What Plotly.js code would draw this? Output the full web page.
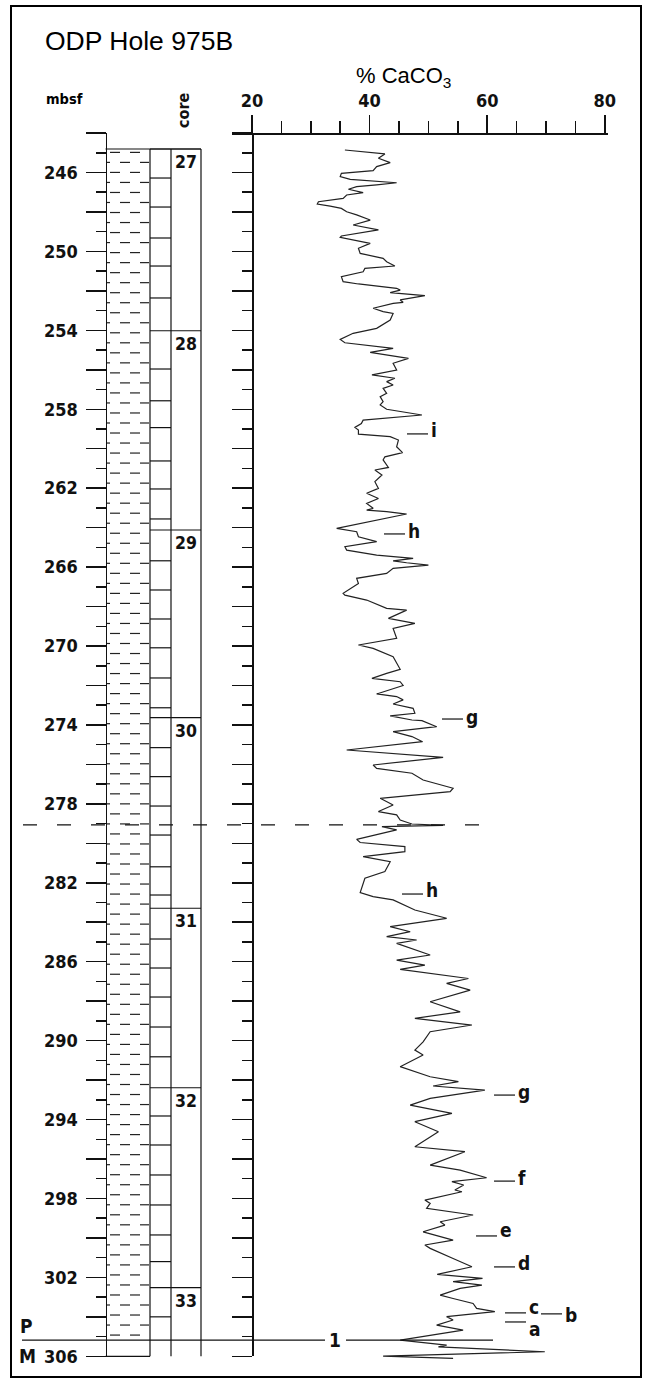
<!DOCTYPE html>
<html><head><meta charset="utf-8">
<script src="https://cdn.plot.ly/plotly-3.0.1.min.js"></script>
<style>html,body{margin:0;padding:0;background:#fff;}#chart{width:649px;height:1382px;}</style>
</head><body><div id="chart"></div>
<script>
// ---------------- data ----------------
const depth = [244.86,244.99,245.06,245.28,245.50,245.70,245.91,246.04,246.21,246.35,246.52,246.63,246.72,246.85,247.02,247.14,247.31,247.48,247.60,247.70,247.82,247.99,248.15,248.41,248.66,248.91,249.22,249.29,249.59,249.84,250.10,250.35,250.52,250.74,250.86,251.03,251.28,251.53,251.65,251.87,251.96,252.09,252.16,252.24,252.46,252.58,252.63,252.88,253.05,253.14,253.48,253.90,254.15,254.46,254.63,254.79,254.91,255.12,255.42,255.67,256.01,256.26,256.43,256.60,256.77,256.94,257.19,257.36,257.61,257.78,258.00,258.29,
258.46,258.55,258.72,258.92,259.05,259.26,259.39,259.56,259.90,260.20,260.41,260.57,260.95,261.08,261.33,261.67,262.01,262.26,262.52,262.77,263.02,263.11,263.19,263.31,264.04,264.21,264.46,264.71,264.97,265.14,265.39,265.56,265.68,265.78,265.90,266.06,266.32,266.57,266.83,267.33,267.42,267.67,268.09,268.18,268.60,268.85,269.11,269.61,269.95,270.12,270.54,271.18,271.39,271.64,271.81,
272.00,272.43,272.56,272.73,272.94,273.16,273.41,273.54,273.75,273.78,274.09,274.34,274.59,274.85,275.27,275.64,276.03,276.20,276.45,276.79,277.21,277.38,277.72,278.06,278.39,278.56,278.82,279.02,279.09,279.15,279.32,279.80,279.96,280.17,280.42,280.67,280.93,281.43,281.77,282.50,282.70,282.87,283.38,283.80,284.22,284.48,284.73,284.90,285.07,285.66,
285.92,286.17,286.39,286.85,287.10,287.44,288.03,288.54,288.87,289.21,289.55,290.06,290.48,290.73,291.32,291.83,292.08,292.30,292.51,292.93,293.27,293.69,294.11,294.62,295.38,295.63,296.31,296.56,296.95,297.15,297.32,297.57,297.66,298.08,298.25,298.50,298.84,299.18,299.35,299.69,300.11,300.36,300.53,301.04,301.46,301.85,302.05,302.22,302.39,302.56,302.90,303.07,303.32,303.57,303.74,303.99,304.16,304.42,304.67,305.18,305.43,305.52,305.77,305.99,306.11];
const caco3 = [35.8,41.2,42.6,41.5,43.5,41.2,40.6,35.2,35.0,36.7,44.6,41.2,37.8,36.4,38.9,36.1,35.5,31.3,31.1,33.3,35.2,36.1,37.8,40.1,37.2,41.5,35.2,35.0,40.1,38.1,38.4,42.3,42.9,44.3,39.2,38.9,35.2,35.5,38.1,44.6,45.2,43.5,45.7,49.4,45.2,45.7,44.0,40.6,42.3,44.0,43.5,41.2,37.2,35.0,35.8,40.1,44.0,40.1,46.6,44.0,44.6,40.4,44.3,42.9,44.0,42.3,42.9,41.8,42.3,41.8,42.9,48.9,
41.8,38.9,38.6,37.5,38.1,38.1,43.5,44.9,44.6,45.6,42.6,42.3,43.2,40.9,42.1,40.9,41.5,39.5,41.5,39.5,40.6,39.5,42.9,46.3,34.4,37.8,38.1,41.2,35.8,36.1,41.2,47.4,44.0,46.3,50.0,44.0,42.9,37.8,38.1,35.5,35.8,39.5,42.9,46.3,43.2,47.7,44.0,44.6,38.1,40.6,44.0,45.2,42.9,40.4,45.2,
45.7,41.2,44.6,45.7,44.0,47.4,47.7,43.5,47.2,48.9,51.4,44.0,47.2,49.0,36.1,52.5,40.6,41.2,47.2,49.1,54.2,53.7,41.8,44.0,41.5,44.6,45.2,47.2,52.5,42.1,44.6,37.8,38.4,46.0,46.0,38.9,43.5,42.6,39.2,38.4,40.6,44.0,47.7,53.1,43.5,46.9,42.9,48.0,44.6,50.3,
44.6,49.4,45.2,56.8,53.1,57.1,50.3,55.4,47.7,57.4,50.3,49.1,47.7,49.1,45.2,50.3,55.1,50.8,59.6,50.3,46.9,54.0,47.7,51.7,47.7,56.2,50.3,55.4,59.9,54.0,56.0,54.5,55.7,49.4,50.3,49.7,57.6,52.0,52.8,49.1,54.2,49.4,50.3,54.2,57.4,51.5,59.2,54.2,59.1,55.4,52.0,54.2,57.6,58.2,61.3,53.1,54.2,51.4,55.9,45.2,53.1,51.7,69.8,42.3,54.2];

const coreNames = ['27','28','29','30','31','32','33'];
const coreTops = [244.81,254.02,264.12,273.63,283.29,292.39,302.52];
const sectionBreaks = [246.28,247.75,249.32,250.74,252.36,255.96,257.57,258.93,260.62,262.04,263.56,265.68,267.16,268.63,270.09,271.62,273.13,275.15,276.62,278.11,279.58,281.19,282.62,284.85,286.32,287.79,289.31,290.82,293.82,295.29,296.81,298.33,299.85,301.20,304.00];
const holeBottom = 306.0;
const pmBoundary = 305.18;
const dashedLevel = 279.07;
const xTickVals = [20,40,60,80];
const depthLabelVals = [246,250,254,258,262,266,270,274,278,282,286,290,294,298,302,306];
const depthLongTickVals = [244,248,252,256,260,264,268,272,276,280,284,288,292,296,300,304];

const eventLabels = ['i','h','g','h','g','f','e','d','c','a','b'];
const eventDepths = [259.25,264.32,273.70,282.57,292.76,297.12,299.90,301.47,303.80,304.26,303.85];
const eventLetterDepths = [259.05,264.17,273.60,282.37,292.61,296.97,299.60,301.26,303.48,304.60,303.89];
const eventX = [46.36,42.45,52.31,45.51,61.16,61.16,58.10,61.16,63.03,63.03,69.15];

// ---------------- geometry ----------------
const W = 649, H = 1382;
const X20 = 252, PXU = 5.88;      // px of 20 %, px per %
const Y246 = 172.5, PXM = 19.73;  // px of 246 m, px per m
const xOf = px => 20 + (px - X20) / PXU;
const dOf = py => 246 + (py - Y246) / PXM;
const pyOf = d => Y246 + (d - 246) * PXM;
const fx = px => px / W;
const fy = py => 1 - py / H;

const ink = '#111';
const narrow = "'Liberation Sans Narrow','DejaVu Sans Condensed','Arial Narrow','Liberation Sans',Arial,sans-serif";
const regular = "'Liberation Sans',Arial,sans-serif";
const boldFont = (s) => ({family: narrow, size: s, color: ink, weight: 'bold'});

// lithology pattern (claystone dashes)
const lx = [], ly = [];
for (let k = 0; ; k++) {
  const d = 244.98 + k * 0.508;
  if (d > 305.0) break;
  const segs = (k % 2 === 0) ? [[110,120],[130,140]] : [[106.5,110],[120,130],[140,149]];
  segs.forEach(s => { lx.push(xOf(s[0]), xOf(s[1]), null); ly.push(d, d, null); });
}

const hidden = {mode: 'markers', marker: {size: 1, opacity: 0}, hoverinfo: 'skip'};
const traces = [
  Object.assign({x: [50], y: [275], xaxis: 'x2', yaxis: 'y2'}, hidden),
  Object.assign({x: [50], y: [275], xaxis: 'x', yaxis: 'y3'}, hidden),
  Object.assign({x: [50], y: [275], xaxis: 'x', yaxis: 'y4'}, hidden),
  {x: lx, y: ly, xaxis: 'x', yaxis: 'y', mode: 'lines', line: {color: '#222', width: 1.2}, hoverinfo: 'skip'},
  {x: caco3, y: depth, xaxis: 'x', yaxis: 'y', mode: 'lines', line: {color: '#222', width: 1.2}, hoverinfo: 'skip'}
];

const shapes = [];
const L = (x0, y0, x1, y1, opt) => shapes.push(Object.assign({type: 'line', xref: 'paper', yref: 'y', x0: fx(x0), x1: fx(x1), y0: y0, y1: y1, line: {color: ink, width: 1.2}}, opt || {}));
// border
shapes.push({type: 'rect', xref: 'paper', yref: 'paper', x0: fx(11), x1: fx(641), y0: fy(1377), y1: fy(6), line: {color: '#000', width: 2}});
// columns
L(105.5, coreTops[0], 201, coreTops[0]);
L(105.5, holeBottom, 150, holeBottom);
[150, 171, 201].forEach(px => L(px, coreTops[0], px, holeBottom));
coreTops.forEach(d => L(150, d, 201, d));
sectionBreaks.forEach(d => L(150, d, 171, d));
// P/M boundary
L(22, pmBoundary, 325, pmBoundary);
shapes.push({type: 'line', xref: 'x', yref: 'y', x0: xOf(346), x1: xOf(493), y0: pmBoundary, y1: pmBoundary, line: {color: ink, width: 1.2}});
// dashed level
L(23, dashedLevel, 493, dashedLevel, {line: {color: ink, width: 1.2, dash: '14px,20px'}});
// event marks
const markLen = 21 / PXU;
eventLabels.forEach((t, i) => shapes.push({type: 'line', xref: 'x', yref: 'y', x0: eventX[i], x1: eventX[i] + markLen, y0: eventDepths[i], y1: eventDepths[i], line: {color: ink, width: 1.2}}));

const annotations = [
  {text: 'ODP Hole 975B', xref: 'paper', yref: 'paper', x: fx(43), y: fy(41), xanchor: 'left', yanchor: 'middle', showarrow: false, font: {family: regular, size: 26.5, color: '#000'}},
  {text: '% CaCO<sub>3</sub>', xref: 'paper', yref: 'paper', x: fx(403), y: fy(77), xanchor: 'center', yanchor: 'middle', showarrow: false, font: {family: regular, size: 22, color: '#000'}},
  {text: 'mbsf', xref: 'paper', yref: 'paper', x: fx(44), y: fy(99), xanchor: 'left', yanchor: 'middle', showarrow: false, font: {family: narrow, size: 14.5, color: '#000', weight: 'bold'}},
  {text: 'core', xref: 'paper', yref: 'paper', x: fx(183), y: fy(110), xanchor: 'center', yanchor: 'middle', textangle: -90, showarrow: false, font: boldFont(16)},
  {text: 'P', xref: 'paper', yref: 'y', x: fx(26.5), y: dOf(1326), xanchor: 'center', yanchor: 'middle', showarrow: false, font: boldFont(19)},
  {text: 'M', xref: 'paper', yref: 'y', x: fx(27), y: dOf(1356), xanchor: 'center', yanchor: 'middle', showarrow: false, font: boldFont(19)},
  {text: '1', xref: 'paper', yref: 'y', x: fx(335.5), y: pmBoundary, xanchor: 'center', yanchor: 'middle', showarrow: false, font: boldFont(19)}
];
coreNames.forEach((c, i) => annotations.push({text: c, xref: 'paper', yref: 'y', x: fx(185.5), y: coreTops[i] + 13 / PXM, xanchor: 'center', yanchor: 'middle', showarrow: false, font: boldFont(17.5)}));
eventLabels.forEach((t, i) => annotations.push({text: t, xref: 'x', yref: 'y', x: eventX[i] + markLen + 1 / PXU, y: eventLetterDepths[i], xanchor: 'left', yanchor: 'middle', showarrow: false, font: boldFont(19)}));

const depthDomain = [fy(pyOf(306)), fy(pyOf(244))];
const tickFont = boldFont(18);
const depthAxisBase = {domain: depthDomain, range: [306, 244], anchor: 'free', side: 'left', showgrid: false, zeroline: false, fixedrange: true,
  ticks: 'outside', tickwidth: 1.5, tickcolor: ink};
const layout = {
  width: W, height: H, margin: {l: 0, r: 0, t: 0, b: 0, pad: 0},
  paper_bgcolor: '#fff', plot_bgcolor: 'rgba(0,0,0,0)', showlegend: false,
  xaxis: {domain: [0, 1], range: [xOf(0), xOf(W)], visible: false, fixedrange: true},
  yaxis: {domain: [0, 1], range: [dOf(H), dOf(0)], visible: false, fixedrange: true},
  xaxis2: {domain: [fx(232), fx(608)], range: [xOf(232), xOf(608)], anchor: 'free', position: fy(pyOf(244)), side: 'top',
    showline: true, linecolor: ink, linewidth: 1.5, showgrid: false, zeroline: false,
    tickmode: 'array', tickvals: xTickVals, ticks: 'outside', ticklen: 18, tickwidth: 1.5, tickcolor: ink,
    minor: {tickmode: 'linear', tick0: 20, dtick: 5, ticks: 'outside', ticklen: 12, tickwidth: 1.5, tickcolor: ink},
    tickfont: tickFont, ticklabelstandoff: 1, fixedrange: true},
  yaxis2: Object.assign({}, depthAxisBase, {position: fx(X20), showline: true, linecolor: ink, linewidth: 1.5, showticklabels: false,
    tickmode: 'linear', tick0: 244, dtick: 2, ticklen: 20,
    minor: {tickmode: 'linear', tick0: 244, dtick: 1, ticks: 'outside', ticklen: 10, tickwidth: 1.5, tickcolor: ink}}),
  yaxis3: Object.assign({}, depthAxisBase, {position: fx(105.5), showline: true, linecolor: ink, linewidth: 1.5,
    tickmode: 'array', tickvals: depthLabelVals, ticklen: 20,
    minor: {tickmode: 'linear', tick0: 244, dtick: 1, ticks: 'outside', ticklen: 10, tickwidth: 1.5, tickcolor: ink},
    tickfont: tickFont, ticklabelstandoff: 4}),
  yaxis4: Object.assign({}, depthAxisBase, {position: fx(105.5), showline: false, showticklabels: false,
    tickmode: 'array', tickvals: depthLongTickVals, ticklen: 20}),
  shapes: shapes, annotations: annotations
};
Plotly.newPlot('chart', traces, layout, {staticPlot: true, displayModeBar: false});
</script></body></html>
